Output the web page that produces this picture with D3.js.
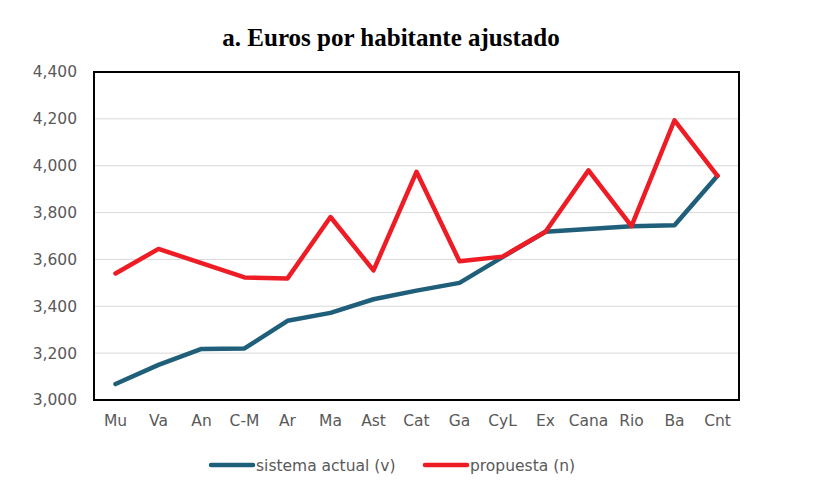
<!DOCTYPE html>
<html>
<head>
<meta charset="utf-8">
<script src="https://cdn.jsdelivr.net/npm/d3@7"></script>
<style>
  body { margin: 0; background: #fff; }
  .tick text { font-family: "DejaVu Sans", sans-serif; font-size: 15.5px; fill: #595959; }
  .legend text { font-family: "DejaVu Sans", sans-serif; font-size: 15.5px; fill: #595959; }
</style>
</head>
<body>
<div id="chart"></div>
<script>
const width = 821, height = 490;
const margin = { top: 72, right: 82, bottom: 90, left: 94 };
const innerWidth = width - margin.left - margin.right;
const innerHeight = height - margin.top - margin.bottom;

const regions = ["Mu", "Va", "An", "C-M", "Ar", "Ma", "Ast", "Cat", "Ga", "CyL", "Ex", "Cana", "Rio", "Ba", "Cnt"];
const actual = [3068, 3150, 3218, 3220, 3338, 3372, 3430, 3467, 3500, 3610, 3718, 3730, 3742, 3746, 3957];
const propuesta = [3540, 3645, 3584, 3523, 3519, 3781, 3553, 3974, 3592, 3612, 3718, 3980, 3742, 4194, 3957];
const yTicks = [3000, 3200, 3400, 3600, 3800, 4000, 4200, 4400];

const blue = "#1f5f7a", red = "#ee1c25";

const svg = d3.select("#chart")
  .append("svg")
  .attr("width", width)
  .attr("height", height);

svg.append("text")
  .attr("x", 391).attr("y", 46)
  .attr("text-anchor", "middle")
  .style("font-family", "'Liberation Serif', serif")
  .style("font-weight", "bold")
  .style("font-size", "25px")
  .text("a. Euros por habitante ajustado");

const inner = svg.append("g")
  .attr("transform", `translate(${margin.left},${margin.top})`);

const xScale = d3.scaleBand().domain(regions).range([0, innerWidth]);
const yScale = d3.scaleLinear().domain([3000, 4400]).range([innerHeight, 0]);

// gridlines
inner.append("g")
  .selectAll("line")
  .data(yTicks.slice(1, -1))
  .join("line")
    .attr("x1", 0).attr("x2", innerWidth)
    .attr("y1", d => yScale(d)).attr("y2", d => yScale(d))
    .attr("stroke", "#d9d9d9").attr("stroke-width", 1);

// axes
const yAxis = inner.append("g")
  .call(d3.axisLeft(yScale).tickValues(yTicks).tickFormat(d3.format(",")).tickSize(0).tickPadding(17));
yAxis.select(".domain").remove();

const xAxis = inner.append("g")
  .attr("transform", `translate(0,${innerHeight})`)
  .call(d3.axisBottom(xScale).tickSize(0).tickPadding(15));
xAxis.select(".domain").remove();

// lines
const line = d3.line()
  .x((d, i) => xScale(regions[i]) + xScale.bandwidth() / 2)
  .y(d => yScale(d));

inner.append("path")
  .datum(actual)
  .attr("fill", "none")
  .attr("stroke", blue)
  .attr("stroke-width", 4.5)
  .attr("stroke-linejoin", "round")
  .attr("stroke-linecap", "round")
  .attr("d", line);

inner.append("path")
  .datum(propuesta)
  .attr("fill", "none")
  .attr("stroke", red)
  .attr("stroke-width", 4.5)
  .attr("stroke-linejoin", "round")
  .attr("stroke-linecap", "round")
  .attr("d", line);

// plot frame
inner.append("rect")
  .attr("width", innerWidth).attr("height", innerHeight)
  .attr("fill", "none").attr("stroke", "#000").attr("stroke-width", 2);

// legend
const legendItems = [
  { label: "sistema actual (v)", color: blue, x: 211 },
  { label: "propuesta (n)", color: red, x: 425 }
];
const legend = svg.append("g").attr("class", "legend");
legendItems.forEach(it => {
  legend.append("line")
    .attr("x1", it.x).attr("x2", it.x + 42)
    .attr("y1", 465).attr("y2", 465)
    .attr("stroke", it.color).attr("stroke-width", 4.5).attr("stroke-linecap", "round");
  legend.append("text")
    .attr("x", it.x + 45).attr("y", 471)
    .text(it.label);
});
</script>
</body>
</html>
